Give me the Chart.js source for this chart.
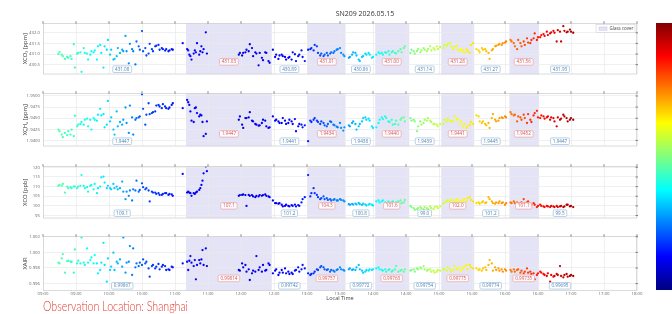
<!DOCTYPE html>
<html><head><meta charset="utf-8">
<script src="https://cdn.jsdelivr.net/npm/chart.js@4.4.1/dist/chart.umd.min.js"></script>
<style>
html,body{margin:0;padding:0;background:#fff;width:672px;height:314px;overflow:hidden}
canvas.pc{position:absolute;left:0}
#cbar{position:absolute;left:656px;top:23px;width:16px;height:267px;
 background:linear-gradient(to top,#000080 0%,#0000ff 12.5%,#00ffff 37.5%,#ffff00 62.5%,#ff0000 87.5%,#800000 100%)}
#cap{position:absolute;left:43px;top:299.5px;font:300 13px/13px Lato,"Open Sans",sans-serif;color:#e8392f;white-space:nowrap;transform-origin:0 0}
</style></head><body>
<canvas id="c1" class="pc" width="672" height="80" style="top:0px"></canvas>
<canvas id="c2" class="pc" width="672" height="67" style="top:85px"></canvas>
<canvas id="c3" class="pc" width="672" height="66" style="top:158px"></canvas>
<canvas id="c4" class="pc" width="672" height="72" style="top:228px"></canvas>
<div id="cbar"></div>
<div id="cap">Observation Location: Shanghai</div>
<script>
// ---------------- DATA ----------------
const times = [
 "09:14","09:15","09:17","09:18","09:20","09:22","09:23","09:25","09:26","09:28","09:29","09:31","09:32","09:34","09:35","09:37","09:38","09:40","09:41","09:43","09:44","09:46","09:47","09:49","09:50","09:52","09:53","09:55","09:56","09:58","09:59",
 "10:01","10:02","10:04","10:05","10:07","10:08","10:10","10:12","10:13","10:15","10:16","10:18","10:19","10:21","10:22","10:24","10:25","10:27","10:28","10:30","10:31","10:33","10:34","10:36","10:37","10:39","10:40","10:42","10:43","10:45","10:46","10:48","10:49","10:51","10:52","10:54","10:55","10:57","10:58","11:07",
 "11:11","11:12","11:13","11:14","11:15","11:17","11:18","11:19","11:20","11:22","11:23","11:24","11:25","11:26","11:28","11:29",
 "11:58","11:59","12:01","12:02","12:04","12:05","12:07","12:08","12:10","12:11","12:13","12:14","12:16","12:17","12:19","12:20","12:22","12:23","12:25","12:26",
 "12:29","12:31","12:32","12:34","12:35","12:37","12:38","12:40","12:41","12:43","12:44","12:46","12:47","12:49","12:50","12:52","12:53","12:55","12:56","12:58",
 "13:01","13:03","13:04","13:06","13:07","13:09","13:10","13:12","13:13","13:15","13:16","13:18","13:19","13:21","13:22","13:24","13:25","13:27","13:28","13:30","13:31","13:33","13:34",
 "13:38","13:39","13:41","13:42","13:44","13:45","13:47","13:48","13:50","13:51","13:53","13:54","13:56","13:57","13:59","14:00",
 "14:03","14:05","14:06","14:08","14:09","14:11","14:12","14:14","14:15","14:17","14:18","14:20","14:21","14:23","14:25","14:26","14:28","14:29",
 "14:34","14:35","14:37","14:38","14:40","14:41","14:43","14:44","14:46","14:47","14:49","14:50","14:52","14:53","14:55","14:56","14:58","14:59","15:01",
 "15:04","15:05","15:07","15:08","15:10","15:11","15:13","15:14","15:16","15:17","15:19","15:20","15:22","15:23","15:25","15:26","15:28","15:29","15:31",
 "15:34","15:36","15:37","15:39","15:40","15:42","15:43","15:45","15:46","15:48","15:49","15:51","15:52","15:54","15:55","15:57","15:58","16:00","16:01",
 "16:05","16:06","16:08","16:09","16:11","16:12","16:14","16:15","16:17","16:18","16:20","16:21","16:23","16:24","16:26","16:27","16:29","16:30",
 "16:32","16:33","16:35","16:36","16:38","16:39","16:41","16:42","16:44","16:45","16:47","16:48","16:50","16:51","16:53","16:54","16:56","16:57","16:59","17:00","17:02"
];
const xco2 = [
 431.00,431.09,430.97,430.90,430.77,430.86,430.82,430.90,430.77,431.46,430.36,431.02,431.05,431.08,430.16,431.28,431.05,431.02,430.74,430.97,431.13,431.08,431.17,430.74,431.36,431.43,431.05,430.36,431.36,431.20,431.66,
 430.97,431.20,430.74,430.77,430.90,431.28,431.05,431.20,431.13,431.85,431.13,430.56,431.48,431.23,431.13,430.51,431.59,431.36,431.20,432.08,431.13,431.28,430.93,431.02,431.48,431.23,431.13,431.36,431.39,431.43,431.20,431.28,431.23,431.16,431.23,431.13,431.17,431.23,431.20,431.51,
 431.23,431.17,430.97,430.90,430.74,431.02,431.17,431.08,431.51,430.97,431.13,431.36,431.08,431.23,432.02,431.02,
 430.97,431.05,430.93,431.05,431.08,431.20,431.13,431.46,431.28,430.90,431.08,431.02,430.47,431.05,430.82,430.71,431.08,431.05,430.67,430.59,
 431.20,430.86,430.97,430.77,430.93,430.97,430.90,430.86,430.74,430.82,430.86,430.74,431.08,430.99,430.67,430.90,430.97,431.17,430.86,430.67,
 431.20,431.23,431.28,431.17,431.43,431.36,431.05,430.93,431.02,430.90,430.97,431.05,430.93,431.02,431.08,431.05,431.13,431.20,431.23,431.28,431.05,430.97,430.90,
 430.82,430.86,430.97,431.08,431.05,430.93,430.74,430.67,430.86,430.90,431.02,430.97,431.05,430.97,430.82,430.86,
 430.97,431.08,431.02,431.05,430.97,431.08,431.05,431.13,430.97,431.08,431.13,431.05,431.02,431.13,431.23,431.08,431.28,431.36,
 431.05,431.20,431.13,431.02,431.13,431.23,431.08,431.17,431.28,431.20,431.13,431.23,431.36,431.17,431.28,431.20,431.36,431.23,431.33,
 431.28,431.43,431.39,431.48,431.51,431.36,431.23,431.33,431.39,431.20,431.13,431.23,431.17,431.08,431.23,431.13,431.05,431.43,431.51,
 431.23,431.17,431.08,431.28,431.20,431.23,431.13,431.05,430.77,431.17,431.23,431.36,431.39,431.43,431.48,431.43,431.51,431.54,431.59,
 431.66,431.59,431.51,431.36,431.23,431.66,431.51,431.36,431.59,431.43,431.74,431.54,431.51,431.66,431.74,431.97,431.66,431.79,
 431.79,431.89,431.94,431.85,432.05,431.89,431.97,432.02,432.09,432.00,431.59,432.12,432.05,431.59,432.31,432.09,432.02,432.05,432.15,432.05,432.00
];
const xch4 = [
 1.94244,1.94207,1.94133,1.94074,1.94170,1.94118,1.94207,1.94133,1.94244,1.94096,1.94555,1.94318,1.94355,1.94370,1.94415,1.94355,1.94466,1.94489,1.94318,1.94466,1.94244,1.94504,1.94466,1.94444,1.94578,1.94711,1.94563,1.94592,1.94296,1.94355,1.94889,
 1.94429,1.94518,1.94244,1.94133,1.94652,1.94318,1.94415,1.94355,1.94466,1.94741,1.94392,1.94170,1.94785,1.94518,1.94133,1.94466,1.94504,1.94518,1.94541,1.95037,1.94711,1.94355,1.94578,1.94837,1.94592,1.94615,1.94637,1.94652,1.94785,1.94800,1.94763,1.94726,1.94815,1.94763,1.94726,1.94711,1.94741,1.94800,1.94837,1.94726,
 1.94911,1.94859,1.94800,1.94652,1.94444,1.94415,1.94726,1.94741,1.94615,1.94541,1.94578,1.94563,1.94415,1.94096,1.94148,1.94429,
 1.94466,1.94541,1.94355,1.94281,1.94504,1.94504,1.94518,1.94637,1.94444,1.94429,1.94370,1.94355,1.94333,1.94340,1.94392,1.94466,1.94444,1.94318,1.94281,1.94296,
 1.94541,1.94444,1.94466,1.94429,1.94392,1.94392,1.94504,1.94444,1.94370,1.94392,1.94466,1.94429,1.94370,1.94481,1.94207,1.94318,1.94370,1.94355,1.94296,1.94340,
 1.93985,1.94444,1.94415,1.94466,1.94504,1.94444,1.94415,1.94370,1.94429,1.94392,1.94340,1.94318,1.94370,1.94429,1.94415,1.94355,1.94340,1.94311,1.94296,1.94392,1.94281,1.94222,1.94296,
 1.94340,1.94318,1.94392,1.94429,1.94370,1.94244,1.94318,1.94370,1.94429,1.94504,1.94518,1.94466,1.94489,1.94444,1.94318,1.94281,
 1.94296,1.94392,1.94466,1.94518,1.94481,1.94541,1.94504,1.94429,1.94415,1.94466,1.94355,1.94370,1.94444,1.94355,1.94466,1.94504,1.94518,1.94429,
 1.94504,1.94444,1.94466,1.94429,1.94207,1.94318,1.94429,1.94355,1.94392,1.94466,1.94444,1.94504,1.94444,1.94415,1.94370,1.94370,1.94355,1.94318,1.94370,
 1.94370,1.94466,1.94429,1.94489,1.94444,1.94429,1.94429,1.94541,1.94489,1.94466,1.94370,1.94429,1.94318,1.94370,1.94281,1.94318,1.94355,1.94415,1.94370,
 1.94563,1.94541,1.94429,1.94392,1.94429,1.94370,1.94340,1.94392,1.94281,1.94504,1.94592,1.94466,1.94429,1.94444,1.94504,1.94518,1.94504,1.94541,1.94518,
 1.94637,1.94592,1.94563,1.94578,1.94429,1.94541,1.94518,1.94466,1.94578,1.94504,1.94392,1.94592,1.94466,1.94415,1.94563,1.94615,1.94667,1.94518,
 1.94504,1.94563,1.94541,1.94489,1.94518,1.94541,1.94466,1.94518,1.94504,1.94429,1.94318,1.94518,1.94466,1.94489,1.94578,1.94541,1.94504,1.94429,1.94466,1.94504,1.94466
];
const xco = [
 110.4,110.9,110.4,111.4,106.9,110.0,109.2,109.7,109.2,110.0,110.0,109.2,110.0,110.4,116.0,110.4,109.2,109.7,107.4,110.4,110.9,108.6,111.4,106.6,109.2,110.0,114.8,115.2,112.1,109.2,110.4,
 109.2,108.6,111.4,109.2,110.0,108.6,109.2,112.6,107.4,103.5,107.4,105.2,108.0,102.8,108.6,108.0,113.1,107.4,108.3,111.7,109.7,108.6,109.2,108.0,102.3,107.4,106.9,106.9,106.2,106.6,105.7,105.7,106.2,106.6,106.6,105.7,106.2,105.9,105.2,116.6,
 106.9,107.4,106.9,106.6,105.2,106.6,106.2,106.9,107.4,108.3,109.2,110.9,113.1,116.9,120.5,118.0,
 105.2,105.6,105.7,105.9,105.6,100.0,105.7,105.2,105.6,104.9,104.5,105.2,104.9,105.6,105.2,105.6,105.9,105.2,104.9,104.5,
 102.8,101.4,101.4,101.1,101.4,100.6,99.7,100.0,100.6,100.0,99.7,100.4,100.0,100.7,99.7,100.4,100.0,101.8,103.5,104.5,
 116.0,104.9,106.6,109.2,106.6,105.7,104.5,103.5,104.0,104.9,103.5,104.0,103.1,103.5,102.8,103.1,103.5,102.8,102.8,103.5,103.1,102.8,102.3,
 100.9,100.6,101.0,100.7,101.2,100.8,101.5,100.9,100.5,101.1,100.8,100.2,100.7,101.0,100.6,100.2,
 102.3,102.8,101.8,102.3,102.8,101.8,101.4,102.3,101.4,101.8,102.3,101.1,101.8,102.3,102.8,101.4,101.8,103.1,
 100.0,99.4,98.8,98.0,98.3,98.8,99.4,98.8,98.3,99.4,98.8,98.3,99.7,98.8,98.3,99.4,99.7,98.8,99.7,
 101.1,101.8,102.3,102.8,102.3,103.1,101.8,102.8,103.5,102.3,102.8,101.8,102.8,103.5,102.3,104.0,104.5,103.1,102.3,
 101.4,101.8,101.1,101.8,102.3,101.4,101.8,104.5,103.5,102.3,101.4,101.1,101.8,101.4,102.3,101.4,101.8,100.6,101.4,
 101.8,101.4,102.3,101.4,101.8,101.1,101.4,101.8,103.5,101.4,101.8,102.3,101.1,100.6,101.4,100.6,99.4,100.0,
 100.6,100.0,99.7,99.4,100.0,99.7,99.4,100.0,99.7,99.4,100.0,99.4,99.7,100.0,99.4,99.7,100.6,100.6,99.7,100.0,99.4
];
const xair = [
 0.99868,0.99859,0.99923,0.99978,0.99740,0.99889,0.99893,0.99880,0.99880,0.99740,1.00038,0.99859,0.99893,0.99859,1.00191,0.99868,0.99838,1.00051,0.99868,0.99902,0.99936,0.99859,0.99966,0.99859,0.99731,0.99774,0.99868,1.00123,0.99838,0.99625,0.99923,
 0.99774,0.99817,0.99996,0.99774,0.99880,0.99859,0.99910,0.99817,1.00191,0.99740,0.99868,0.99880,1.00081,0.99710,1.00051,0.99808,0.99859,0.99825,0.99868,0.99838,0.99910,0.99859,0.99880,0.99795,0.99689,0.99825,0.99838,0.99795,0.99817,0.99851,0.99783,0.99817,0.99838,0.99825,0.99774,0.99783,0.99774,0.99817,0.99808,0.99859,
 0.99880,0.99774,0.99893,0.99953,0.99868,0.99825,0.99902,0.99655,0.99838,0.99902,0.99859,0.99910,1.00030,0.99838,1.00051,0.99825,
 0.99774,0.99765,0.99859,0.99808,0.99838,0.99753,0.99783,0.99646,0.99731,0.99765,0.99753,0.99953,0.99774,0.99808,0.99753,0.99838,0.99765,0.99774,0.99859,0.99838,
 0.99731,0.99765,0.99783,0.99710,0.99740,0.99774,0.99740,0.99795,0.99731,0.99753,0.99723,0.99740,0.99723,0.99765,0.99774,0.99808,0.99753,0.99783,0.99838,0.99795,
 0.99731,0.99710,0.99723,0.99731,0.99753,0.99783,0.99774,0.99808,0.99825,0.99808,0.99783,0.99774,0.99783,0.99753,0.99774,0.99765,0.99753,0.99774,0.99783,0.99808,0.99783,0.99774,0.99765,
 0.99783,0.99795,0.99774,0.99783,0.99774,0.99808,0.99838,0.99783,0.99765,0.99740,0.99753,0.99774,0.99765,0.99783,0.99774,0.99783,
 0.99795,0.99808,0.99783,0.99774,0.99765,0.99783,0.99753,0.99774,0.99783,0.99753,0.99765,0.99783,0.99825,0.99753,0.99765,0.99774,0.99753,0.99783,
 0.99765,0.99774,0.99783,0.99753,0.99795,0.99783,0.99808,0.99795,0.99825,0.99783,0.99765,0.99774,0.99783,0.99753,0.99765,0.99740,0.99753,0.99774,0.99765,
 0.99783,0.99795,0.99765,0.99808,0.99783,0.99753,0.99774,0.99825,0.99795,0.99783,0.99808,0.99765,0.99795,0.99817,0.99838,0.99783,0.99838,0.99808,0.99795,
 0.99795,0.99774,0.99783,0.99765,0.99795,0.99808,0.99774,0.99838,0.99902,0.99859,0.99765,0.99808,0.99774,0.99795,0.99765,0.99783,0.99753,0.99783,0.99765,
 0.99774,0.99753,0.99783,0.99753,0.99774,0.99783,0.99740,0.99765,0.99731,0.99753,0.99795,0.99740,0.99753,0.99723,0.99731,0.99655,0.99710,0.99731,
 0.99753,0.99740,0.99723,0.99710,0.99697,0.99731,0.99625,0.99710,0.99689,0.99697,0.99723,0.99710,0.99825,0.99697,0.99680,0.99710,0.99723,0.99689,0.99697,0.99710,0.99697
];
const glassStart = ["11:10","13:00","14:02","15:02","16:04"];
const glassEnd   = ["12:28","13:35","14:33","15:32","16:31"];
const clearLabelTimes = ["10:12","12:44","13:49","14:47","15:47","16:50"];
const glassLabelTimes = ["11:49","13:18","14:17","15:17","16:17"];
const xco2Clear = ["431.08","430.89","430.86","431.14","431.27","431.93"];
const xco2Glass = ["431.03","431.01","431.00","431.28","431.56"];
const xch4Clear = ["1.9447","1.9441","1.9438","1.9439","1.9445","1.9447"];
const xch4Glass = ["1.9447","1.9434","1.9440","1.9441","1.9452"];
const xcoClear  = ["109.1","101.2","100.8","99.0","101.2","99.5"];
const xcoGlass  = ["107.1","104.3","101.6","102.0","101.1"];
const xairClear = ["0.99867","0.99742","0.99772","0.99754","0.99774","0.99695"];
const xairGlass = ["0.99814","0.99757","0.99763","0.99775","0.99735"];
const xTickLabels = ["09:00","09:30","10:00","10:30","11:00","11:30","12:00","12:30","13:00","13:30","14:00","14:30","15:00","15:30","16:00","16:30","17:00","17:30","18:00"];
const xco2Ticks = [430.5,431.0,431.5,432.0];
const xch4Ticks = [1.9400,1.9425,1.9450,1.9475,1.9500];
const xcoTicks  = [95,100,105,110,115,120];
const xairTicks = [0.996,0.998,1.000,1.002];

// ---------------- STYLE ----------------
const colorStops = [[9.2,0.46],[9.5,0.42],[9.75,0.38],[10.0,0.34],[10.25,0.28],[10.5,0.21],[10.75,0.17],[11.0,0.14],[11.5,0.11],[12.0,0.10],[12.5,0.11],[13.0,0.15],[13.5,0.26],[14.0,0.36],[14.5,0.48],[15.0,0.57],[15.5,0.65],[16.0,0.74],[16.5,0.85],[17.05,0.97]];
const FONT = '"Open Sans", "DejaVu Sans", sans-serif';
const SHADE = '#e5e4f7';

const H = t => { const [h,m] = t.split(':').map(Number); return h + m/60; };
const cl = v => Math.max(0, Math.min(1, v));
function jet(v){ v = cl(v);
  const r = cl(1.5-Math.abs(4*v-3)), g = cl(1.5-Math.abs(4*v-2)), b = cl(1.5-Math.abs(4*v-1));
  return `rgb(${Math.round(r*255)},${Math.round(g*255)},${Math.round(b*255)})`; }
function level(h){
  if (h <= colorStops[0][0]) return colorStops[0][1];
  for (let i=1;i<colorStops.length;i++){
    const [h1,l1]=colorStops[i-1],[h2,l2]=colorStops[i];
    if (h<=h2) return l1+(l2-l1)*(h-h1)/(h2-h1);
  }
  return colorStops[colorStops.length-1][1];
}
const xTickVals = xTickLabels.map(H);
const pointColors = times.map(t => jet(level(H(t))));

function deco(p){
  return {
    id:'deco'+p.key,
    beforeDraw(chart){
      const {ctx, chartArea:a, scales:{x}} = chart;
      ctx.save(); ctx.fillStyle = SHADE;
      glassStart.forEach((s,i)=>{
        const x1 = x.getPixelForValue(H(s)), x2 = x.getPixelForValue(H(glassEnd[i]));
        ctx.fillRect(x1, a.top, x2-x1, a.bottom-a.top);
      });
      ctx.restore();
    },
    afterDatasetsDraw(chart){
      const {ctx, chartArea:a, scales:{x,y}} = chart;
      ctx.save();
      ctx.strokeStyle = '#d2d2d2'; ctx.lineWidth = 0.8;
      ctx.strokeRect(a.left+0.4, a.top+0.4, a.right-a.left-0.8, a.bottom-a.top-0.8);
      ctx.strokeStyle = '#555'; ctx.lineWidth = 0.7;
      xTickVals.forEach(v=>{ const px = x.getPixelForValue(v);
        ctx.beginPath(); ctx.moveTo(px, a.top-1.8); ctx.lineTo(px, a.top+0.6); ctx.stroke(); });
      p.ticks.forEach(v=>{ const py = y.getPixelForValue(v);
        ctx.beginPath(); ctx.moveTo(a.right-1.5, py); ctx.lineTo(a.right+1, py); ctx.stroke(); });
      // y title
      ctx.save();
      ctx.translate(25, (a.top+a.bottom)/2); ctx.rotate(-Math.PI/2);
      ctx.font = `5.8px ${FONT}`; ctx.fillStyle = '#333'; ctx.textAlign='center'; ctx.textBaseline='middle';
      ctx.fillText(p.title, 0, 0);
      ctx.restore();
      // mean labels
      ctx.font = `4.6px ${FONT}`; ctx.textAlign='center'; ctx.textBaseline='middle';
      const box = (t, txt, cy, stroke, color) => {
        const cx = x.getPixelForValue(H(t));
        const w = ctx.measureText(txt).width + 4.5, h = 6.6;
        ctx.beginPath();
        if (ctx.roundRect) ctx.roundRect(cx-w/2, cy-h/2, w, h, 1.2); else ctx.rect(cx-w/2, cy-h/2, w, h);
        ctx.fillStyle = 'rgba(255,255,255,0.85)'; ctx.fill();
        ctx.strokeStyle = stroke; ctx.lineWidth = 0.7; ctx.stroke();
        ctx.fillStyle = color; ctx.fillText(txt, cx, cy+0.2);
      };
      clearLabelTimes.forEach((t,i)=>box(t, p.clear[i], a.bottom-5.2, '#9cbfdd', '#4a82b6'));
      glassLabelTimes.forEach((t,i)=>box(t, p.glass[i], a.bottom-12.6, '#eba3a3', '#d9534f'));
      if (p.legend){
        const lx = a.right-41, ly = a.top+1.5;
        ctx.fillStyle='rgba(255,255,255,0.9)'; ctx.fillRect(lx, ly, 39, 8);
        ctx.strokeStyle='#cfcfcf'; ctx.lineWidth=0.6; ctx.strokeRect(lx, ly, 39, 8);
        ctx.fillStyle=SHADE; ctx.fillRect(lx+3, ly+2.5, 8, 3.2);
        ctx.strokeStyle='#c9c7ee'; ctx.strokeRect(lx+3, ly+2.5, 8, 3.2);
        ctx.fillStyle='#444'; ctx.textAlign='left'; ctx.font=`4.5px ${FONT}`;
        ctx.fillText('Glass cover', lx+13.5, ly+4.2);
        // title
        ctx.font = `7px ${FONT}`; ctx.fillStyle='#333'; ctx.textAlign='center';
        ctx.fillText('SN209 2026.05.15', 365, 14);
      }
      if (p.showX){
        ctx.font = `5.5px ${FONT}`; ctx.fillStyle='#444'; ctx.textAlign='center';
        ctx.fillText('Local Time', (a.left+a.right)/2, a.bottom+7.5);
      }
      ctx.restore();
    }
  };
}

function panel(p){
  const data = times.map((t,i)=>({x:H(t), y:p.values[i]}));
  new Chart(document.getElementById(p.id), {
    type:'scatter',
    data:{datasets:[{data, pointBackgroundColor:pointColors, pointBorderWidth:0, pointRadius:1.15, pointHoverRadius:1.15}]},
    options:{
      responsive:false, animation:false, events:[],
      layout:{padding:{top:p.padTop, bottom:p.padBottom, left:0, right:35}},
      plugins:{legend:{display:false}, tooltip:{enabled:false}},
      scales:{
        x:{type:'linear', min:9, max:18,
           afterBuildTicks:s=>{ s.ticks = xTickVals.map(v=>({value:v})); },
           ticks:{display:p.showX, autoSkip:false, maxRotation:0, padding:0.5,
                  callback:(v,i)=>xTickLabels[i], font:{size:4.3, family:FONT}, color:'#666'},
           grid:{color:'#e9e9e9', lineWidth:0.7, drawTicks:false},
           border:{display:false},
           afterFit:s=>{ s.height = p.xH; }},
        y:{min:p.min, max:p.max,
           afterBuildTicks:s=>{ s.ticks = p.ticks.map(v=>({value:v})); },
           ticks:{padding:3, callback:(v)=>Number(v).toFixed(p.dec), font:{size:4.3, family:FONT}, color:'#666'},
           grid:{color:'#e9e9e9', lineWidth:0.7, drawTicks:false},
           border:{display:false},
           afterFit:s=>{ s.width = 43; }}
      }
    },
    plugins:[deco(p)]
  });
}

panel({id:'c1', key:1, values:xco2, min:430.04, max:432.46, ticks:xco2Ticks, dec:1, title:'XCO₂ [ppm]', clear:xco2Clear, glass:xco2Glass, padTop:23, padBottom:5, xH:0, legend:true});
panel({id:'c2', key:2, values:xch4, min:1.93866, max:1.95067, ticks:xch4Ticks, dec:4, title:'XCH₄ [ppm]', clear:xch4Clear, glass:xch4Glass, padTop:8, padBottom:5, xH:0});
panel({id:'c3', key:3, values:xco, min:93.5, max:120.7, ticks:xcoTicks, dec:0, title:'XCO [ppb]', clear:xcoClear, glass:xcoGlass, padTop:8, padBottom:5, xH:0});
panel({id:'c4', key:4, values:xair, min:0.99505, max:1.0021, ticks:xairTicks, dec:3, title:'XAIR', clear:xairClear, glass:xairGlass, padTop:8, padBottom:0, xH:9, showX:true});

const cap = document.getElementById('cap');
const w = cap.getBoundingClientRect().width;
if (w > 0) cap.style.transform = `scaleX(${145/w})`;
</script>
</body></html>
